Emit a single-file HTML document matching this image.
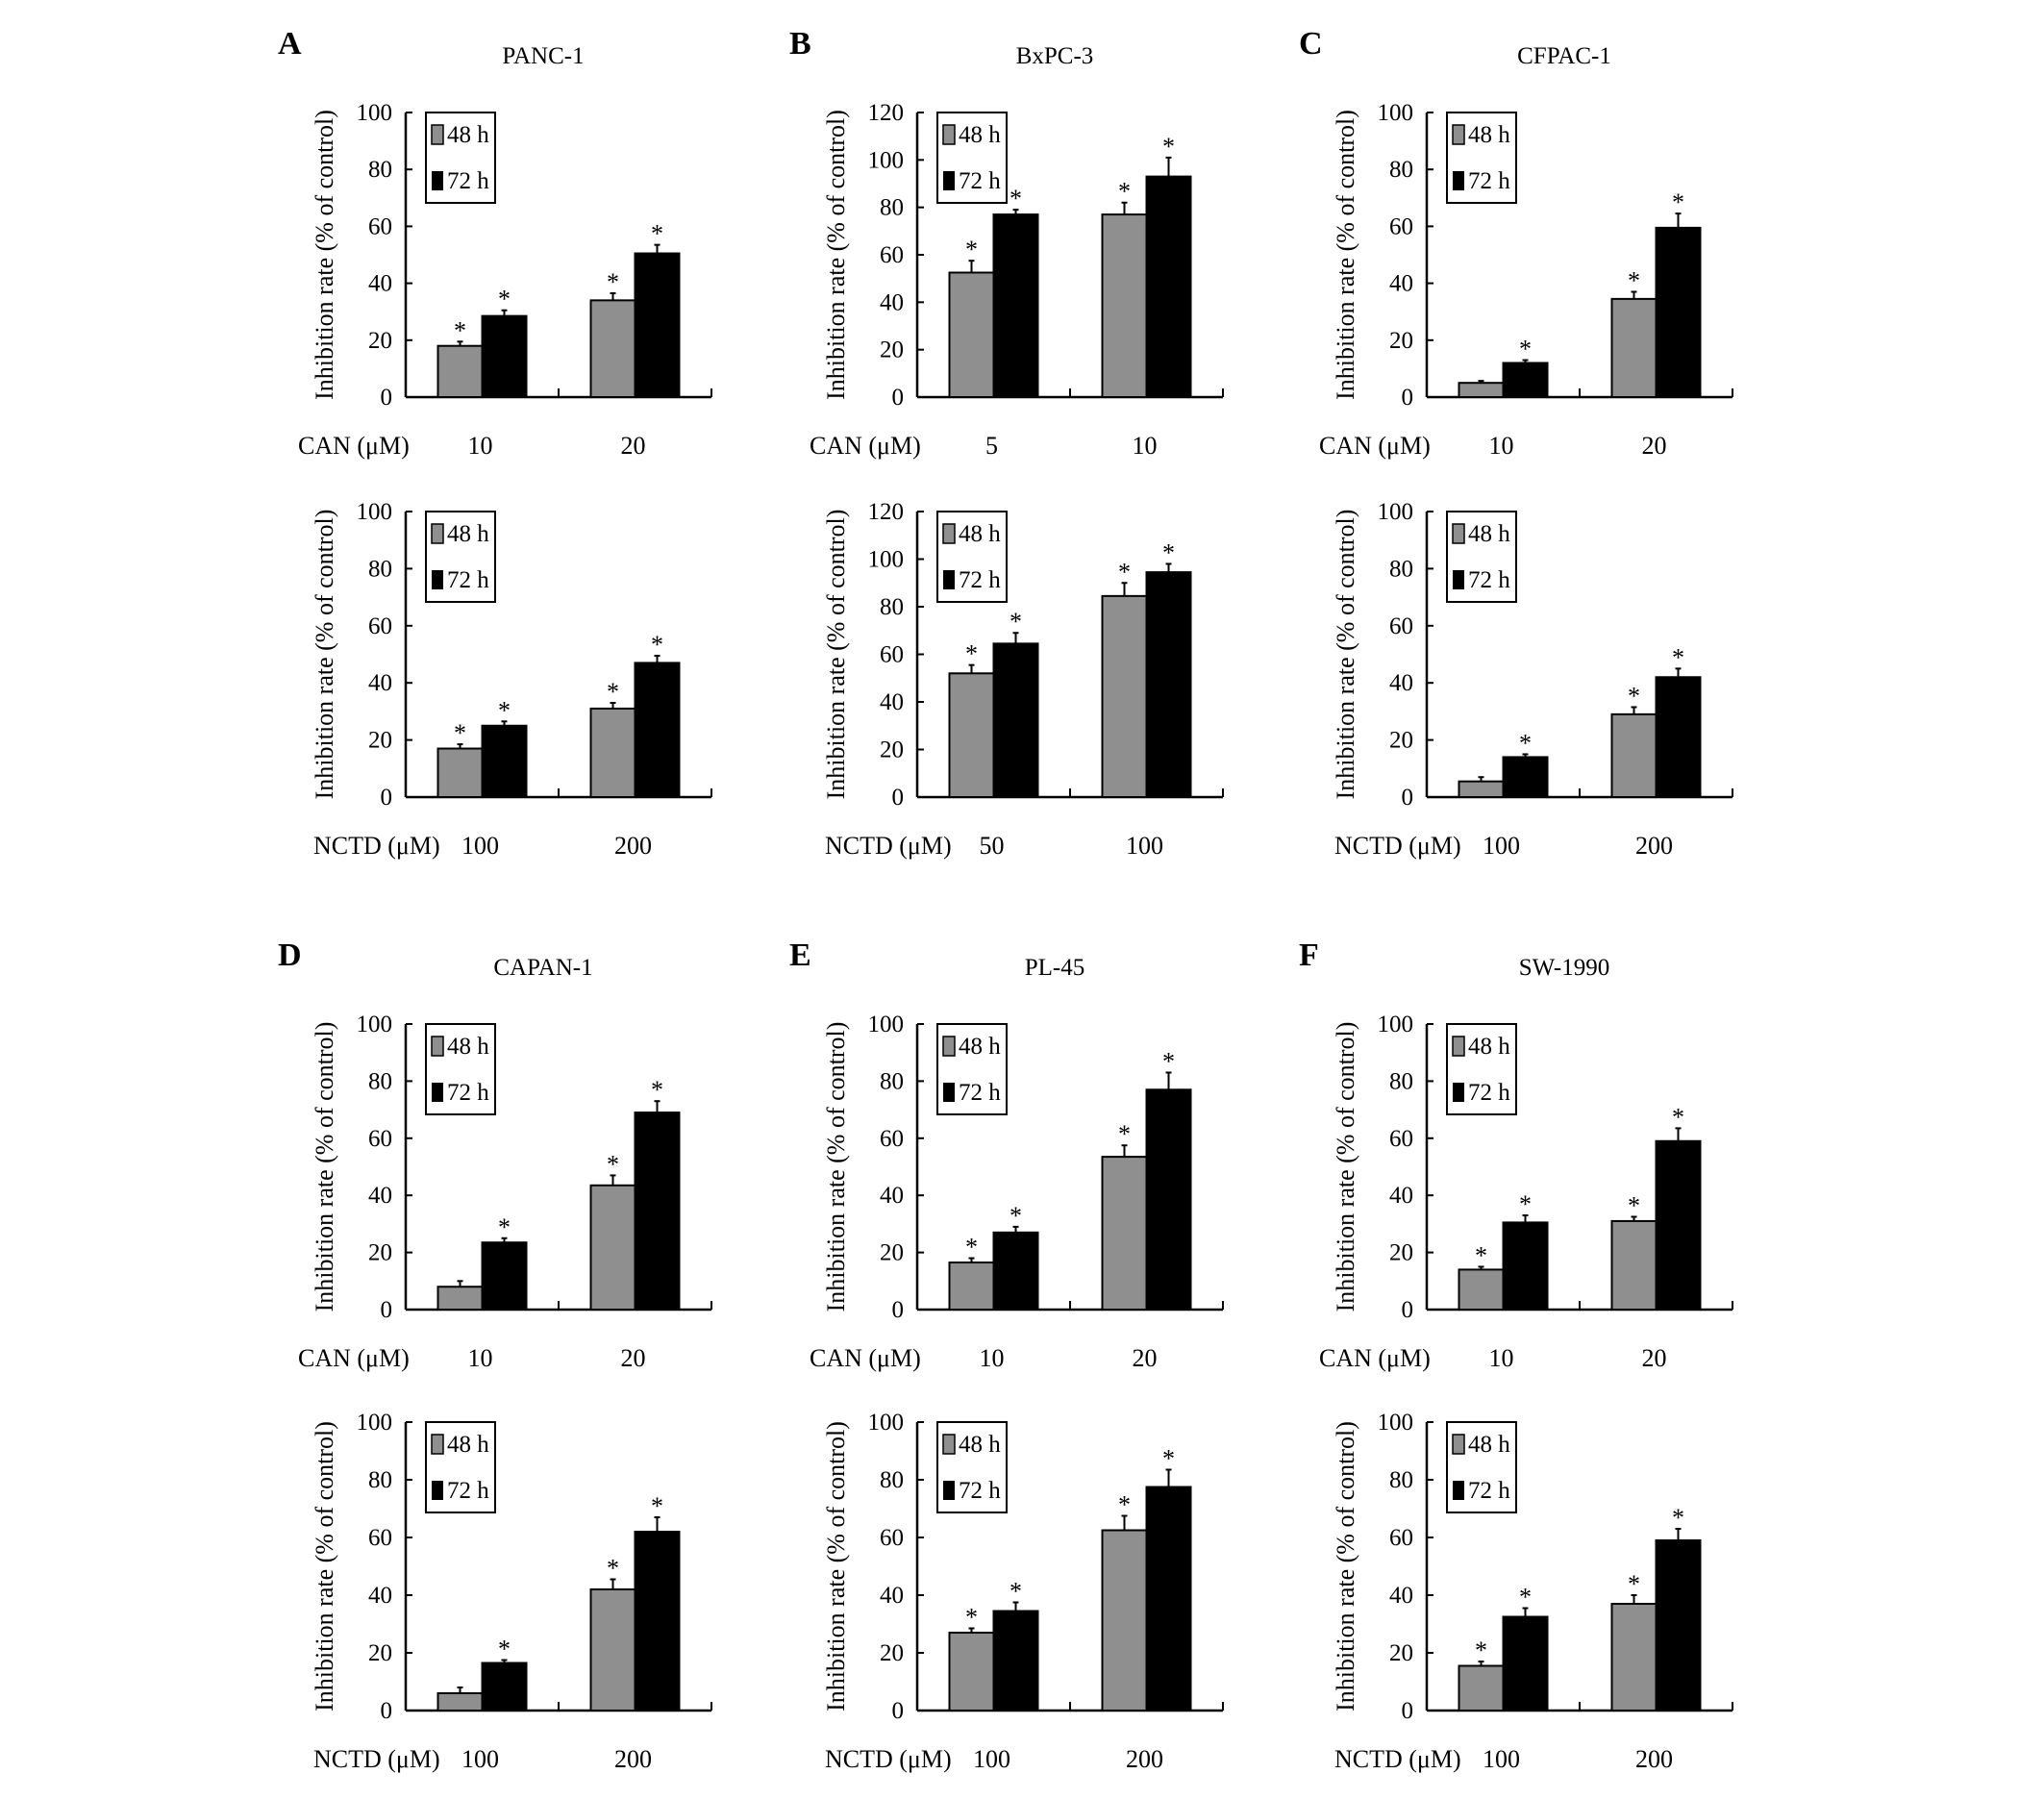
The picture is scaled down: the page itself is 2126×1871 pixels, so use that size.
<!DOCTYPE html>
<html><head><meta charset="utf-8"><style>
html,body{margin:0;padding:0;background:#fff;}
svg{display:block;font-family:"Liberation Serif",serif;}
</style></head><body>
<svg id="fig" width="2126" height="1871" viewBox="0 0 2126 1871" xmlns="http://www.w3.org/2000/svg"></svg>
<script>
const panelLetters=["A","B","C","D","E","F"];
const panelTitles=["PANC-1","BxPC-3","CFPAC-1","CAPAN-1","PL-45","SW-1990"];
const yMaxes=[100,120,100,100,100,100];
const canLabels=[["10","20"],["5","10"],["10","20"],["10","20"],["10","20"],["10","20"]];
const nctdLabels=[["100","200"],["50","100"],["100","200"],["100","200"],["100","200"],["100","200"]];
const h48=[[[18,34],[17,31]],[[52.5,77],[52,84.5]],[[5,34.5],[5.5,29]],[[8,43.5],[6,42]],[[16.5,53.5],[27,62.5]],[[14,31],[15.5,37]]];
const h72=[[[28.5,50.5],[25,47]],[[77,93],[64.5,94.5]],[[12,59.5],[14,42]],[[23.5,69],[16.5,62]],[[27,77],[34.5,77.5]],[[30.5,59],[32.5,59]]];
const e48=[[[1.5,2.5],[1.5,2]],[[5,5],[3.5,5.5]],[[0.7,2.5],[1.5,2.5]],[[2,3.5],[2,3.5]],[[1.5,4],[1.5,5]],[[1,1.5],[1.5,3]]];
const e72=[[[2,3],[1.5,2.5]],[[2,8],[4.5,3.5]],[[1,5],[1,3]],[[1.5,4],[1,5]],[[2,6],[3,6]],[[2.5,4.5],[3,4]]];
const s48=[[[1,1],[1,1]],[[1,1],[1,1]],[[0,1],[0,1]],[[0,1],[0,1]],[[1,1],[1,1]],[[1,1],[1,1]]];
const s72=[[[1,1],[1,1]],[[1,1],[1,1]],[[1,1],[1,1]],[[1,1],[1,1]],[[1,1],[1,1]],[[1,1],[1,1]]];

const NS="http://www.w3.org/2000/svg";
const svg=document.getElementById('fig');
function mk(tag,attrs,parent,text){const e=document.createElementNS(NS,tag);for(const k in attrs)e.setAttribute(k,attrs[k]);if(text!==undefined)e.textContent=text;(parent||svg).appendChild(e);return e;}

const colX=[422,954,1484];
const rowTop=[117,532,1065,1479];
const rowZero=[413,829,1362,1779];
const axisW=318;

for(let p=0;p<6;p++){
  const col=p%3, blk=Math.floor(p/3);
  const ax=colX[col];
  const pg=mk('g',{});
  
  
  const L=mk('text',{x:ax-133,y:rowTop[blk*2]-61,'font-size':34,'font-weight':'bold'},pg,panelLetters[p]);
  
  
  const T=mk('text',{x:ax+143,y:rowTop[blk*2]-51,'font-size':25,'text-anchor':'middle'},pg,panelTitles[p]);
  
  
  for(let c=0;c<2;c++){
    const r=blk*2+c;
    const top=rowTop[r], zero=rowZero[r], ymax=yMaxes[p];
    const y=v=>zero-(v/ymax)*(zero-top);
    const catW=axisW/2;
    const xCat=i=>ax+catW*i+catW/2;
    const g=mk('g',{},pg);
    
    
    const ya=mk('line',{x1:ax,y1:top,x2:ax,y2:zero,stroke:'#000','stroke-width':2.5},g);
    
    
    const xa=mk('line',{x1:ax,y1:zero,x2:ax+axisW,y2:zero,stroke:'#000','stroke-width':2.5},g);
    
    
    for(let k=1;k<=2;k++){
      const t=mk('line',{x1:ax+catW*k,y1:zero,x2:ax+catW*k,y2:zero-9,stroke:'#000','stroke-width':2},g);
      
      
    }
    for(let v=0;v<=ymax;v+=20){
      const t=mk('line',{x1:ax,y1:y(v),x2:ax+7,y2:y(v),stroke:'#000','stroke-width':2},g);
      
      
      const tl=mk('text',{x:ax-14,y:y(v)+8,'font-size':25,'text-anchor':'end'},g,String(v));
      
      
    }
    const yt=mk('text',{x:0,y:0,'font-size':26,'text-anchor':'middle',transform:`translate(${ax-76},${(top+zero)/2}) rotate(-90)`},g,'Inhibition rate (% of control)');
    
    
    const bw=46;
    const series=[[h48,e48,s48,'#8f8f8f','48h'],[h72,e72,s72,'#000','72h']];
    for(let i=0;i<2;i++){
      series.forEach((s,si)=>{
        const v=s[0][p][c][i], er=s[1][p][c][i], st=s[2][p][c][i];
        const bx=xCat(i)-bw+si*bw;
        const cx=bx+bw/2;
        const eb=mk('line',{x1:cx,y1:y(v),x2:cx,y2:y(v+er),stroke:'#000','stroke-width':2},g);
        
        
        const cap=mk('line',{x1:cx-3,y1:y(v+er),x2:cx+3,y2:y(v+er),stroke:'#000','stroke-width':2},g);
        
        
        const b=mk('rect',{x:bx,y:y(v),width:bw,height:zero-y(v),fill:s[3],stroke:'#000','stroke-width':2},g);
        
        
        if(st){
          const sm=mk('text',{x:cx,y:y(v+er)-3,'font-size':26,'text-anchor':'middle'},g,'*');
          
          
        }
      });
      const labs=c===0?canLabels:nctdLabels;
      const cl=mk('text',{x:xCat(i)-2,y:zero+59,'font-size':26,'text-anchor':'middle'},g,labs[p][i]);
      
      
    }
    const xt=mk('text',{x:c===0?ax-112:ax-96,y:zero+59,'font-size':26},g,c===0?'CAN (μM)':'NCTD (μM)');
    
    
    const lg=mk('g',{},g);
    
    
    mk('rect',{x:ax+21,y:top,width:72,height:94,fill:'#fff',stroke:'#000','stroke-width':2},lg);
    const e1=mk('rect',{x:ax+27,y:top+13,width:12,height:20,fill:'#8f8f8f',stroke:'#000','stroke-width':1.5},lg);
    
    
    mk('text',{x:ax+43,y:top+31,'font-size':25},lg,'48 h');
    const e2=mk('rect',{x:ax+27,y:top+61,width:12,height:20,fill:'#000'},lg);
    
    
    mk('text',{x:ax+43,y:top+79,'font-size':25},lg,'72 h');
  }
}
</script>
</body></html>
